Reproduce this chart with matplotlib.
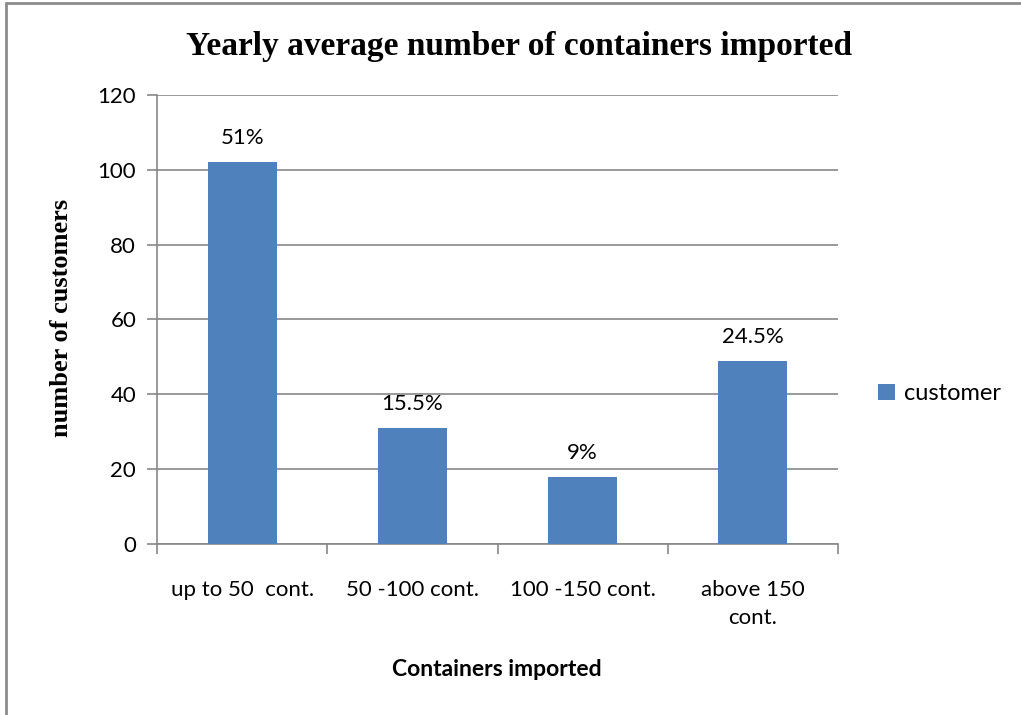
import matplotlib
matplotlib.use("Agg")
import matplotlib.pyplot as plt
from matplotlib.patches import Rectangle

categories = ["up to 50  cont.", "50 -100 cont.", "100 -150 cont.", "above 150\ncont."]
customers = [102, 31, 18, 49]
pct_labels = ["51%", "15.5%", "9%", "24.5%"]
yticks = [0, 20, 40, 60, 80, 100, 120]

bar_color = "#4F81BD"
grid_color = "#878787"
sans = "Lato"

fig = plt.figure(figsize=(10.21, 7.15), dpi=100)
fig.patches.append(Rectangle((0.006, -0.1), 1.1, 1.096, transform=fig.transFigure,
                             fill=False, edgecolor="#8c8c8c", linewidth=2))
ax = fig.add_axes([0.1538, 0.2392, 0.667, 0.6279])

x = list(range(len(categories)))
bars = ax.bar(x, customers, width=0.405, color=bar_color, label="customer", zorder=3)
for b, t in zip(bars, pct_labels):
    ax.annotate(t, (b.get_x() + b.get_width() / 2, b.get_height()), xytext=(0, 10),
                textcoords="offset points", ha="center", va="bottom",
                fontsize=16, family=sans)

ax.set_xlim(-0.5, 3.5)
ax.set_ylim(0, 120)
ax.set_yticks(yticks)
ax.set_xticks([-0.5, 0.5, 1.5, 2.5, 3.5], minor=False)
ax.set_xticklabels([])
ax.set_xticks(x, minor=True)
ax.set_xticklabels(categories, minor=True, fontsize=16, family=sans, linespacing=1.5)
ax.tick_params(axis="x", which="minor", length=0, pad=26)
ax.tick_params(axis="x", which="major", length=7, color=grid_color, width=1.2)
ax.tick_params(axis="y", length=7, color=grid_color, width=1.2, labelsize=16, pad=8)
for lab in ax.get_yticklabels():
    lab.set_family(sans)
ax.grid(axis="y", color=grid_color, linewidth=1.2, zorder=0)
for s in ["top", "right"]:
    ax.spines[s].set_visible(False)
for s in ["left", "bottom"]:
    ax.spines[s].set_color(grid_color)
    ax.spines[s].set_linewidth(1.2)

fig.text(0.508, 0.935, "Yearly average number of containers imported", ha="center", va="center",
         fontsize=24, fontweight="bold", family="Liberation Serif")
fig.text(0.06, 0.555, "number of customers", rotation=90, ha="center", va="center",
         fontsize=19, fontweight="bold", family="Liberation Serif")
fig.text(0.487, 0.063, "Containers imported", ha="center", va="center",
         fontsize=16.5, fontweight="bold", family=sans)

ax.legend(loc="center left", bbox_to_anchor=(1.028, 0.335), frameon=False,
          prop={"family": sans, "size": 17}, handlelength=0.7, handleheight=0.7,
          handletextpad=0.4)

fig.savefig("out.png", dpi=100)
